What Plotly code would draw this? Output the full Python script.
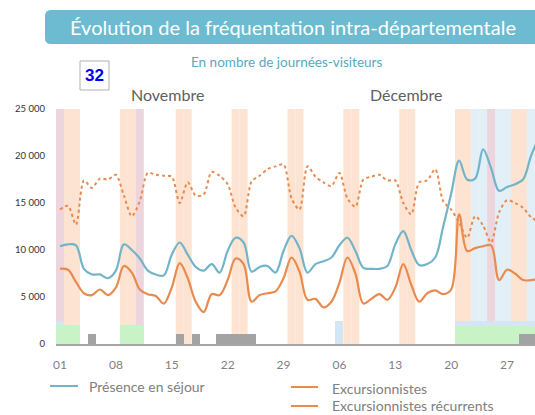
import plotly.graph_objects as go

# ---------------- data ----------------
days = list(range(61))  # 0 = 1 Nov, 60 = 31 Dec

presence = [10400, 10600, 10500, 8000, 7400, 7400, 7000, 7800, 10600, 10000,
            9100, 7800, 7400, 7300, 9500, 10800, 9500, 8200, 7800, 8500,
            7600, 9900, 11300, 10800, 7700, 8200, 8300, 7600, 9900, 11500,
            10200, 7600, 8500, 8800, 9200, 10500, 11300, 9900, 8100, 8000,
            8000, 8300, 10600, 12000, 10000, 8400, 8500, 9200, 12500, 16000,
            19500, 17500, 17600, 20700, 18700, 16300, 16700, 17000, 17500, 20000,
            22000]

excursionnistes = [8000, 7900, 6600, 5400, 5200, 5800, 5200, 6000, 8300, 7600,
                   5800, 5300, 5100, 4300, 6000, 8600, 7000, 4500, 3400, 5300,
                   5200, 6800, 9100, 8500, 4500, 5200, 5400, 5600, 7000, 9200,
                   7700, 4700, 4800, 3900, 4500, 6500, 9200, 7500, 4300, 4800,
                   5300, 4700, 6000, 8500, 6300, 4500, 5400, 5700, 5300, 5800,
                   13800, 9900, 10200, 10400, 10500, 6800, 7900, 7500, 6800, 6800,
                   6900]

recurrents = [14300, 14700, 12700, 17400, 16600, 17600, 17500, 18000, 15800, 13600,
              15200, 18200, 18000, 17900, 17800, 15000, 17200, 15800, 15900, 18300,
              17900, 17000, 14500, 13600, 17300, 17900, 18600, 18900, 19100, 15500,
              14300, 18900, 17800, 17200, 16800, 18200, 15500, 14600, 17500, 17800,
              18000, 17400, 17400, 15000, 13800, 17200, 17400, 18600, 15200, 14300,
              12900, 11300, 13600, 12600, 10800, 14000, 15300, 15000, 14500, 13500,
              13000]

weekend_days = [1, 2, 8, 9, 15, 16, 22, 23, 29, 30, 36, 37, 43, 44, 50, 51, 57, 58]
holiday_days = [0, 10, 54]
school_holiday_days = list(range(50, 61))

lightblue_bar_days = [0, 35] + list(range(50, 61))
lightblue_bar_vals = [2400, 2500] + [2400] * 11
green_bar_days = [0, 1, 2, 8, 9, 10] + list(range(50, 61))
green_bar_vals = [2000] * 6 + [1900] * 11
grey_bar_days = [4, 15, 17, 20, 21, 22, 23, 24, 58, 59]
grey_bar_vals = [1100] * 10

tick_days = [0, 7, 14, 21, 28, 35, 42, 49, 56]
tick_labels = ["01", "08", "15", "22", "29", "06", "13", "20", "27"]
y_ticks = [0, 5000, 10000, 15000, 20000, 25000]
y_labels = ["0", "5 000", "10 000", "15 000", "20 000", "25 000"]

# ---------------- layout geometry ----------------
W, H = 535, 415
PLOT_L, PLOT_R, PLOT_T, PLOT_B = 56, 535, 109, 344   # window pixels
PW, PH = PLOT_R - PLOT_L, PLOT_B - PLOT_T
ML, MT = PLOT_L, PLOT_T
MR, MB = W - ML - PW, H - MT - PH


def px(x):
    return (x - PLOT_L) / PW


def py(y):
    return (PLOT_B - y) / PH


C_BLUE = "#72B4C8"
C_ORANGE = "#E98A4E"
C_WEEKEND = "#FCE3D2"
C_HOLIDAY = "#EDD5DD"
C_SCHOOL = "#E3EFF7"
FONT = "Lato"

fig = go.Figure()

# bottom indicator bars
fig.add_trace(go.Bar(x=lightblue_bar_days, y=lightblue_bar_vals, width=1,
                     marker=dict(color="#D4E6F4", line=dict(width=0)), showlegend=False, hoverinfo="skip"))
fig.add_trace(go.Bar(x=green_bar_days, y=green_bar_vals, width=1,
                     marker=dict(color="#C8F3C6", line=dict(width=0)), showlegend=False, hoverinfo="skip"))
fig.add_trace(go.Bar(x=grey_bar_days, y=grey_bar_vals, width=1,
                     marker=dict(color="#A3A3A3", line=dict(width=0)), showlegend=False, hoverinfo="skip"))

# lines
fig.add_trace(go.Scatter(x=days, y=recurrents, mode="lines", name="Excursionnistes récurrents",
                         line=dict(color=C_ORANGE, width=2, dash="dot", shape="spline", smoothing=0.8),
                         showlegend=False))
fig.add_trace(go.Scatter(x=days, y=presence, mode="lines", name="Présence en séjour",
                         line=dict(color=C_BLUE, width=2.2, shape="spline", smoothing=1.0),
                         showlegend=False))
fig.add_trace(go.Scatter(x=days, y=excursionnistes, mode="lines", name="Excursionnistes",
                         line=dict(color=C_ORANGE, width=2.2, shape="spline", smoothing=1.0),
                         showlegend=False))

shapes = []
for d in school_holiday_days:
    shapes.append(dict(type="rect", xref="x", yref="y", x0=d - 0.5, x1=d + 0.5, y0=0, y1=25000,
                       fillcolor=C_SCHOOL, line=dict(width=0), layer="below"))
for d in weekend_days:
    shapes.append(dict(type="rect", xref="x", yref="y", x0=d - 0.5, x1=d + 0.5, y0=0, y1=25000,
                       fillcolor=C_WEEKEND, line=dict(width=0), layer="below"))
for d in holiday_days:
    shapes.append(dict(type="rect", xref="x", yref="y", x0=d - 0.5, x1=d + 0.5, y0=0, y1=25000,
                       fillcolor=C_HOLIDAY, line=dict(width=0), layer="below"))

# title banner (rounded rectangle)
bx0, bx1, by0, by1, r = 45, 545, 10, 44, 6
path = (f"M {px(bx0 + r)} {py(by0)} L {px(bx1 - r)} {py(by0)} "
        f"Q {px(bx1)} {py(by0)} {px(bx1)} {py(by0 + r)} L {px(bx1)} {py(by1 - r)} "
        f"Q {px(bx1)} {py(by1)} {px(bx1 - r)} {py(by1)} L {px(bx0 + r)} {py(by1)} "
        f"Q {px(bx0)} {py(by1)} {px(bx0)} {py(by1 - r)} L {px(bx0)} {py(by0 + r)} "
        f"Q {px(bx0)} {py(by0)} {px(bx0 + r)} {py(by0)} Z")
shapes.append(dict(type="path", xref="paper", yref="paper", path=path,
                   fillcolor="#6CBBD0", line=dict(width=0), layer="above"))

# "32" box
shapes.append(dict(type="rect", xref="paper", yref="paper", x0=px(80), x1=px(109), y0=py(90), y1=py(61),
                   fillcolor="white", line=dict(color="#B0B0B0", width=1)))

# legend line samples
shapes.append(dict(type="line", xref="paper", yref="paper", x0=px(50), x1=px(78), y0=py(386), y1=py(386),
                   line=dict(color=C_BLUE, width=2)))
shapes.append(dict(type="line", xref="paper", yref="paper", x0=px(291), x1=px(318), y0=py(387), y1=py(387),
                   line=dict(color=C_ORANGE, width=2)))
shapes.append(dict(type="line", xref="paper", yref="paper", x0=px(291), x1=px(318), y0=py(406), y1=py(406),
                   line=dict(color=C_ORANGE, width=2)))

annotations = [
    dict(text="Évolution de la fréquentation intra-départementale", xref="paper", yref="paper",
         x=px(293), y=py(27), xanchor="center", yanchor="middle", showarrow=False,
         font=dict(family=FONT, size=20, color="white")),
    dict(text="En nombre de journées-visiteurs", xref="paper", yref="paper",
         x=px(286), y=py(62), xanchor="center", yanchor="middle", showarrow=False,
         font=dict(family=FONT, size=13.5, color="#55A9C2")),
    dict(text="<b>32</b>", xref="paper", yref="paper",
         x=px(94.5), y=py(76), xanchor="center", yanchor="middle", showarrow=False,
         font=dict(family="Liberation Sans, Arial", size=17, color="#0000EE")),
    dict(text="Novembre", xref="paper", yref="paper",
         x=px(167), y=py(95), xanchor="center", yanchor="middle", showarrow=False,
         font=dict(family=FONT, size=16, color="#606060")),
    dict(text="Décembre", xref="paper", yref="paper",
         x=px(406), y=py(95), xanchor="center", yanchor="middle", showarrow=False,
         font=dict(family=FONT, size=16, color="#606060")),
    dict(text="Présence en séjour", xref="paper", yref="paper",
         x=px(87), y=py(386), xanchor="left", yanchor="middle", showarrow=False,
         font=dict(family=FONT, size=14, color="#808080")),
    dict(text="Excursionnistes", xref="paper", yref="paper",
         x=px(330), y=py(388), xanchor="left", yanchor="middle", showarrow=False,
         font=dict(family=FONT, size=14, color="#808080")),
    dict(text="Excursionnistes récurrents", xref="paper", yref="paper",
         x=px(330), y=py(405), xanchor="left", yanchor="middle", showarrow=False,
         font=dict(family=FONT, size=14, color="#808080")),
]

fig.update_layout(
    width=W, height=H,
    margin=dict(l=ML, r=MR, t=MT, b=MB, pad=0),
    paper_bgcolor="white", plot_bgcolor="white",
    barmode="overlay", bargap=0,
    showlegend=False,
    hovermode=False,
    shapes=shapes,
    annotations=annotations,
    xaxis=dict(range=[-0.5, 59.5], tickvals=tick_days, ticktext=tick_labels,
               showgrid=False, zeroline=False, showline=True, linecolor="#A6A6A6", linewidth=1.5,
               ticks="outside", ticklen=9, tickcolor="rgba(0,0,0,0)",
               tickfont=dict(family=FONT, size=12, color="#7F7F7F"), fixedrange=True),
    yaxis=dict(range=[0, 25000], tickvals=y_ticks, ticktext=y_labels,
               showgrid=False, zeroline=False, showline=False,
               ticks="outside", ticklen=8, tickcolor="rgba(0,0,0,0)",
               tickfont=dict(family=FONT, size=9.5, color="#333333"), fixedrange=True),
)

fig.write_html("out.html",
               config={"displayModeBar": False, "staticPlot": True},
               post_script="document.body.style.margin='0';document.body.style.overflow='hidden';")
